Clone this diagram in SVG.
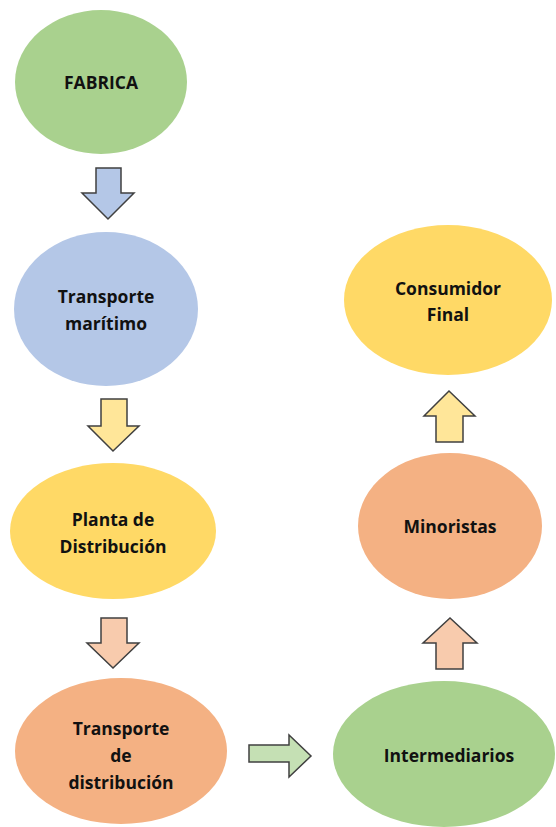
<svg xmlns="http://www.w3.org/2000/svg" width="556" height="827" viewBox="0 0 556 827">
<style>
.t{font-family:"Open Sans","Liberation Sans",sans-serif;font-weight:bold;font-size:17.5px;fill:#111111;text-anchor:middle}
.ar{stroke:#404040;stroke-width:1.5;stroke-linejoin:miter}
</style>
<rect width="556" height="827" fill="#ffffff"/>
<g id="fabrica"><ellipse cx="101" cy="82" rx="86" ry="72" fill="#A9D18E"/><text class="t" x="101" y="89">FABRICA</text></g>
<g id="transporte-maritimo"><ellipse cx="106" cy="309" rx="92" ry="77" fill="#B4C7E7"/><text class="t" x="106" y="303">Transporte</text><text class="t" x="106" y="330">marítimo</text></g>
<g id="planta"><ellipse cx="113" cy="531" rx="103" ry="68" fill="#FFD966"/><text class="t" x="113" y="526">Planta de</text><text class="t" x="113" y="553">Distribución</text></g>
<g id="transporte-distribucion"><ellipse cx="121" cy="751" rx="106" ry="73" fill="#F4B183"/><text class="t" x="121" y="735">Transporte</text><text class="t" x="121" y="762">de</text><text class="t" x="121" y="789">distribución</text></g>
<g id="intermediarios"><ellipse cx="444" cy="754" rx="111" ry="73" fill="#A9D18E"/><text class="t" x="449" y="762">Intermediarios</text></g>
<g id="minoristas"><ellipse cx="450" cy="526" rx="92" ry="73" fill="#F4B183"/><text class="t" x="450" y="533">Minoristas</text></g>
<g id="consumidor"><ellipse cx="448" cy="300" rx="104" ry="75" fill="#FFD966"/><text class="t" x="448" y="295">Consumidor</text><text class="t" x="448" y="321">Final</text></g>
<g id="connectors">
<polygon class="ar" fill="#B4C7E7" points="96,168 121,168 121,193 134,193 108,219 82,193 96,193"/>
<polygon class="ar" fill="#FFE699" points="101,399 127,399 127,426 139,426 113,451 88,426 101,426"/>
<polygon class="ar" fill="#F8CBAD" points="101,618 127,618 127,643 139,643 113,668 87,643 101,643"/>
<polygon class="ar" fill="#C5E0B4" points="249,745 289,745 289,735 311,756 289,777 289,762 249,762"/>
<polygon class="ar" fill="#F8CBAD" points="436,669 463,669 463,643 477,643 450,618 423,643 436,643"/>
<polygon class="ar" fill="#FFE699" points="436,442 463,442 463,416 475,416 449,391 424,416 436,416"/>
</g>
</svg>
